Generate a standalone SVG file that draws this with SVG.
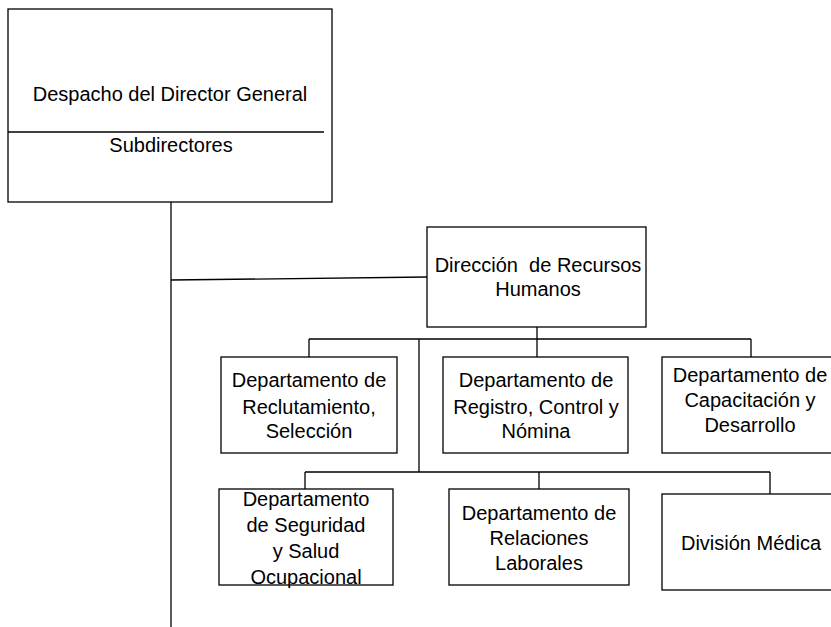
<svg xmlns="http://www.w3.org/2000/svg" width="831" height="627" viewBox="0 0 831 627">
<style>
.box{fill:#fff;stroke:#000;stroke-width:1.3}
.ln{fill:none;stroke:#000;stroke-width:1.3}
text{font-family:"Liberation Sans",Arial,sans-serif;font-size:20px;fill:#000;text-anchor:middle}
</style>
<rect width="831" height="627" fill="#fff"/>
<g id="connectors">
<path class="ln" d="M171,202 V627"/>
<path class="ln" d="M171,280 L427,277"/>
<path class="ln" d="M537,327 V339 M309,339 H751 M309,339 V357 M537,339 V357 M751,339 V358 M419,339 V472"/>
<path class="ln" d="M305,472 H770 M305,472 V489 M539,472 V489 M770,472 V494"/>
</g>
<g id="director">
<rect class="box" x="8" y="9" width="324" height="193"/>
<path class="ln" d="M8,132 H324"/>
<text x="170" y="101">Despacho del Director General</text>
<text x="171" y="152" font-size="19">Subdirectores</text>
</g>
<g id="rrhh">
<rect class="box" x="427" y="227" width="219" height="100"/>
<text x="538" y="272" xml:space="preserve">Dirección  de Recursos</text>
<text x="538" y="296">Humanos</text>
</g>
<g id="reclutamiento">
<rect class="box" x="221" y="357" width="176" height="96"/>
<text x="309" y="387">Departamento de</text>
<text x="309" y="414">Reclutamiento,</text>
<text x="309" y="438">Selección</text>
</g>
<g id="registro">
<rect class="box" x="443" y="357" width="185" height="96"/>
<text x="536" y="387">Departamento de</text>
<text x="536" y="414">Registro, Control y</text>
<text x="536" y="438">Nómina</text>
</g>
<g id="capacitacion">
<rect class="box" x="662" y="357" width="180" height="96"/>
<text x="750" y="382">Departamento de</text>
<text x="750" y="407">Capacitación y</text>
<text x="750" y="432">Desarrollo</text>
</g>
<g id="seguridad">
<rect class="box" x="219" y="489" width="174" height="96"/>
<text x="306" y="506">Departamento</text>
<text x="306" y="532">de Seguridad</text>
<text x="306" y="558">y Salud</text>
<text x="306" y="584">Ocupacional</text>
</g>
<g id="relaciones">
<rect class="box" x="449" y="489" width="180" height="96"/>
<text x="539" y="520">Departamento de</text>
<text x="539" y="545">Relaciones</text>
<text x="539" y="570">Laborales</text>
</g>
<g id="medica">
<rect class="box" x="662" y="494" width="180" height="96"/>
<text x="751" y="550">División Médica</text>
</g>
</svg>
